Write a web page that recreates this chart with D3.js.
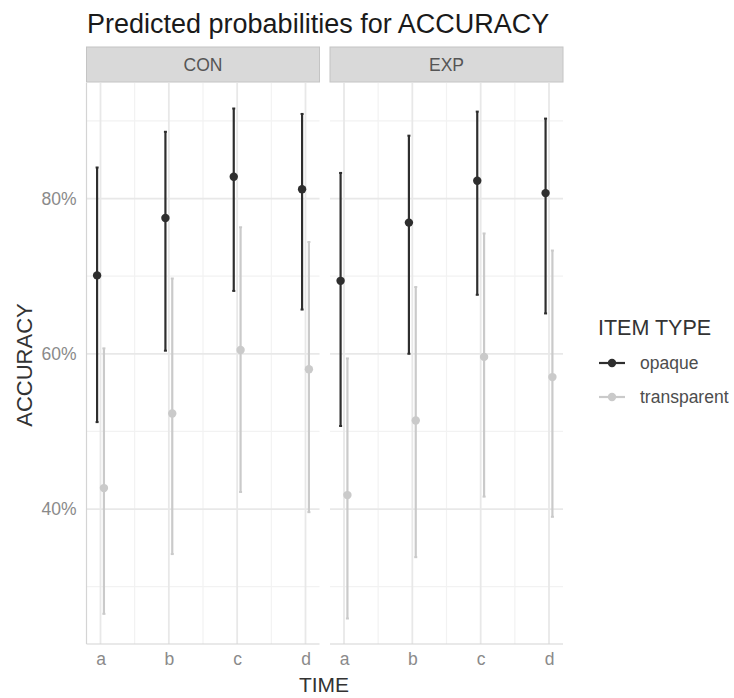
<!DOCTYPE html>
<html>
<head>
<meta charset="utf-8">
<script src="https://cdn.jsdelivr.net/npm/d3@7"></script>
<style>
  body { margin: 0; background: #fff; }
  svg { display: block; font-family: "Liberation Sans", Arial, sans-serif; }
</style>
</head>
<body>
<div id="chart"></div>
<script>
// chart values
const groups = ["CON", "EXP"];
const times = ["a", "b", "c", "d"];
const itemTypes = ["opaque", "transparent"];

// predicted probability, lower and upper bound per time (a..d)
const conOpaque      = [0.701, 0.775, 0.828, 0.812];
const conOpaqueLow   = [0.512, 0.604, 0.681, 0.657];
const conOpaqueHigh  = [0.840, 0.886, 0.916, 0.909];
const conTransp      = [0.427, 0.523, 0.605, 0.580];
const conTranspLow   = [0.265, 0.342, 0.422, 0.396];
const conTranspHigh  = [0.607, 0.697, 0.763, 0.744];
const expOpaque      = [0.694, 0.769, 0.823, 0.807];
const expOpaqueLow   = [0.507, 0.600, 0.676, 0.652];
const expOpaqueHigh  = [0.833, 0.881, 0.912, 0.903];
const expTransp      = [0.418, 0.514, 0.596, 0.570];
const expTranspLow   = [0.259, 0.338, 0.416, 0.390];
const expTranspHigh  = [0.594, 0.686, 0.755, 0.733];

const yTicks = [0.4, 0.6, 0.8];
const yMinor = [0.3, 0.5, 0.7, 0.9];

// build rows
const series = {
  CON: { opaque: [conOpaque, conOpaqueLow, conOpaqueHigh], transparent: [conTransp, conTranspLow, conTranspHigh] },
  EXP: { opaque: [expOpaque, expOpaqueLow, expOpaqueHigh], transparent: [expTransp, expTranspLow, expTranspHigh] }
};
const data = [];
groups.forEach(g => {
  itemTypes.forEach(t => {
    const s = series[g][t];
    times.forEach((tm, i) => {
      data.push({group: g, type: t, time: i + 1, p: s[0][i], lo: s[1][i], hi: s[2][i]});
    });
  });
});

const width = 734, height = 698;
const panelTop = 83, panelBottom = 644;
const panelW = 233;
const panelLeft = {CON: 86.5, EXP: 330};
const dodge = 0.05;

const colors = {opaque: "#2e2e2e", transparent: "#cacaca"};

const svg = d3.select("#chart").append("svg")
  .attr("width", width)
  .attr("height", height);

// x is continuous 1..4 with a small dodge, expanded 5% like ggplot
const xMin = 1 - dodge, xMax = 4 + dodge;
const xPad = (xMax - xMin) * 0.05;
const xScale = d3.scaleLinear()
  .domain([xMin - xPad, xMax + xPad])
  .range([0, panelW]);

const yLo = d3.min(data, d => d.lo), yHi = d3.max(data, d => d.hi);
const yPad = (yHi - yLo) * 0.05;
const yScale = d3.scaleLinear()
  .domain([yLo - yPad, yHi + yPad])
  .range([panelBottom, panelTop]);

// title
svg.append("text")
  .attr("x", 87)
  .attr("y", 33)
  .attr("font-size", 27)
  .attr("fill", "#1a1a1a")
  .text("Predicted probabilities for ACCURACY");

groups.forEach((g, gi) => {
  const left = panelLeft[g];
  const panel = svg.append("g").attr("transform", "translate(" + left + ",0)");

  // strip
  panel.append("rect")
    .attr("x", 0).attr("y", 47)
    .attr("width", panelW).attr("height", 35)
    .attr("fill", "#d9d9d9")
    .attr("stroke", "#c4c4c4");
  panel.append("text")
    .attr("x", panelW / 2).attr("y", 65)
    .attr("text-anchor", "middle")
    .attr("dominant-baseline", "central")
    .attr("font-size", 17.5)
    .attr("fill", "#555")
    .text(g);

  // minor grid
  yMinor.forEach(v => {
    panel.append("line")
      .attr("x1", 0).attr("x2", panelW)
      .attr("y1", yScale(v)).attr("y2", yScale(v))
      .attr("stroke", "#f2f2f2").attr("stroke-width", 1.2);
  });
  [1.5, 2.5, 3.5].forEach(v => {
    panel.append("line")
      .attr("x1", xScale(v)).attr("x2", xScale(v))
      .attr("y1", panelTop).attr("y2", panelBottom)
      .attr("stroke", "#f2f2f2").attr("stroke-width", 1.2);
  });
  // major grid
  yTicks.forEach(v => {
    panel.append("line")
      .attr("x1", 0).attr("x2", panelW)
      .attr("y1", yScale(v)).attr("y2", yScale(v))
      .attr("stroke", "#e8e8e8").attr("stroke-width", 1.8);
  });
  [1, 2, 3, 4].forEach(v => {
    panel.append("line")
      .attr("x1", xScale(v)).attr("x2", xScale(v))
      .attr("y1", panelTop).attr("y2", panelBottom)
      .attr("stroke", "#e8e8e8").attr("stroke-width", 1.8);
  });

  // bottom axis line + labels
  panel.append("line")
    .attr("x1", 0).attr("x2", panelW)
    .attr("y1", panelBottom).attr("y2", panelBottom)
    .attr("stroke", "#d4d4d4").attr("stroke-width", 1.2);
  const xAxis = d3.axisBottom(xScale)
    .tickValues([1, 2, 3, 4])
    .tickFormat((d, i) => times[i])
    .tickSize(0)
    .tickPadding(9);
  const xg = panel.append("g")
    .attr("transform", "translate(0," + panelBottom + ")")
    .call(xAxis);
  xg.select(".domain").remove();
  xg.selectAll("text")
    .attr("font-size", 17.5)
    .attr("font-family", "Liberation Sans, Arial, sans-serif")
    .attr("fill", "#8a8a8a");

  if (gi === 0) {
    panel.append("line")
      .attr("x1", 0).attr("x2", 0)
      .attr("y1", panelTop).attr("y2", panelBottom)
      .attr("stroke", "#d4d4d4").attr("stroke-width", 1.2);
    const yAxis = d3.axisLeft(yScale)
      .tickValues(yTicks)
      .tickFormat(d3.format(".0%"))
      .tickSize(0)
      .tickPadding(10);
    const yg = panel.append("g").call(yAxis);
    yg.select(".domain").remove();
    yg.selectAll("text")
      .attr("font-size", 17.5)
      .attr("font-family", "Liberation Sans, Arial, sans-serif")
      .attr("fill", "#8a8a8a");
  }

  const rows = data.filter(d => d.group === g);
  const xPos = d => xScale(d.time + (d.type === "opaque" ? -dodge : dodge));

  // error bars
  const bars = panel.selectAll(".bar")
    .data(rows)
    .enter().append("g");
  bars.append("line")
    .attr("x1", xPos).attr("x2", xPos)
    .attr("y1", d => yScale(d.lo)).attr("y2", d => yScale(d.hi))
    .attr("stroke", d => colors[d.type])
    .attr("stroke-width", 2.2);
  bars.append("line")
    .attr("x1", d => xPos(d) - 1.5).attr("x2", d => xPos(d) + 1.5)
    .attr("y1", d => yScale(d.lo)).attr("y2", d => yScale(d.lo))
    .attr("stroke", d => colors[d.type]).attr("stroke-width", 2);
  bars.append("line")
    .attr("x1", d => xPos(d) - 1.5).attr("x2", d => xPos(d) + 1.5)
    .attr("y1", d => yScale(d.hi)).attr("y2", d => yScale(d.hi))
    .attr("stroke", d => colors[d.type]).attr("stroke-width", 2);

  // points
  panel.selectAll(".pt")
    .data(rows)
    .enter().append("circle")
    .attr("cx", xPos)
    .attr("cy", d => yScale(d.p))
    .attr("r", 4.2)
    .attr("fill", d => colors[d.type]);
});

// axis titles
svg.append("text")
  .attr("x", 324).attr("y", 692)
  .attr("text-anchor", "middle")
  .attr("font-size", 21)
  .attr("fill", "#333")
  .text("TIME");
svg.append("text")
  .attr("transform", "translate(32,365) rotate(-90)")
  .attr("text-anchor", "middle")
  .attr("font-size", 22)
  .attr("fill", "#333")
  .text("ACCURACY");

// legend
const legend = svg.append("g").attr("transform", "translate(598,0)");
legend.append("text")
  .attr("x", 0).attr("y", 335)
  .attr("font-size", 21.5)
  .attr("fill", "#333")
  .text("ITEM TYPE");
itemTypes.forEach((t, i) => {
  const cy = 363 + i * 34;
  legend.append("line")
    .attr("x1", 1).attr("x2", 27)
    .attr("y1", cy).attr("y2", cy)
    .attr("stroke", colors[t]).attr("stroke-width", 2.2);
  legend.append("circle")
    .attr("cx", 14).attr("cy", cy).attr("r", 4.2)
    .attr("fill", colors[t]);
  legend.append("text")
    .attr("x", 42).attr("y", cy)
    .attr("dominant-baseline", "central")
    .attr("font-size", 17.5)
    .attr("fill", "#4d4d4d")
    .text(t);
});
</script>
</body>
</html>
